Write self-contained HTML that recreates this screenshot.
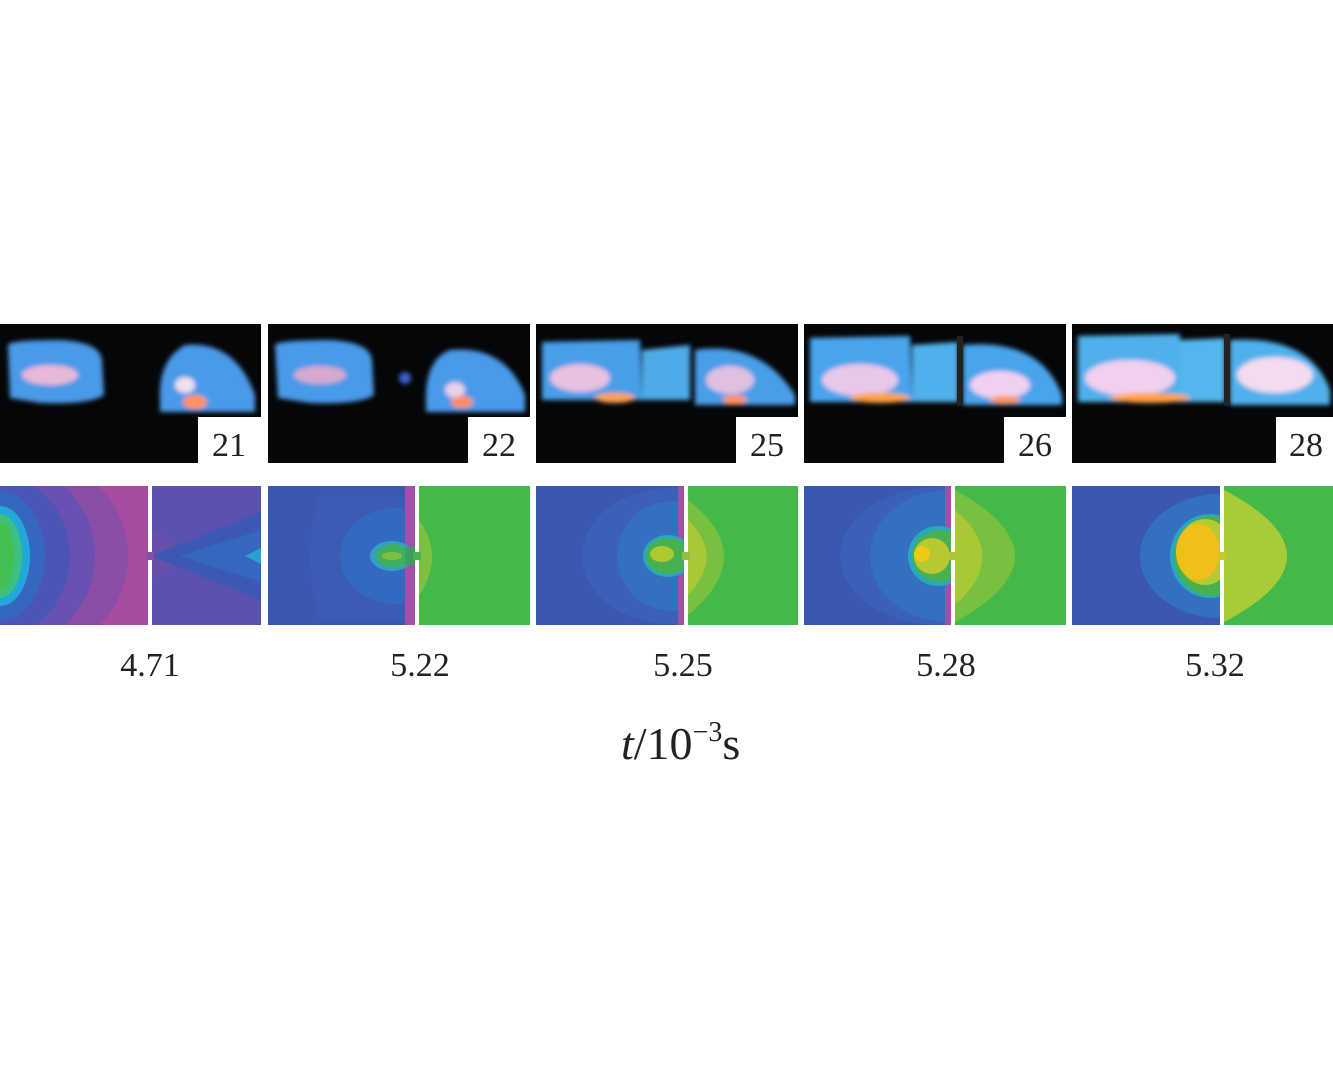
<!DOCTYPE html>
<html><head><meta charset="utf-8"><style>
html,body{margin:0;padding:0;background:#fff;}
svg{display:block}
text{font-family:"Liberation Serif",serif;fill:#222}
</style></head><body>
<svg width="1333" height="1085" viewBox="0 0 1333 1085" xmlns="http://www.w3.org/2000/svg">
<defs>
<filter id="b" x="-20%" y="-20%" width="140%" height="140%"><feGaussianBlur stdDeviation="2.5"/></filter>
<clipPath id="c1"><rect x="0" y="486" width="148" height="139"/></clipPath>
<clipPath id="c4"><rect x="804" y="486" width="147" height="139"/></clipPath>
<clipPath id="c3"><rect x="536" y="486" width="148" height="139"/></clipPath>
</defs>
<g>
<rect x="0" y="324" width="261" height="139" fill="#050608"/>
<rect x="268" y="324" width="262" height="139" fill="#050608"/>
<rect x="536" y="324" width="262" height="139" fill="#050608"/>
<rect x="804" y="324" width="262" height="139" fill="#050608"/>
<rect x="1072" y="324" width="261" height="139" fill="#050608"/>
<g filter="url(#b)">
<path d="M8 345 Q10 340 60 340 Q100 342 102 360 L104 395 Q90 405 40 403 L10 398 Z" fill="#4a9ae8"/>
<ellipse cx="50" cy="375" rx="28" ry="10" fill="#e8b8d8"/>
<path d="M160 400 Q158 360 185 345 Q235 340 255 395 L255 412 L160 412 Z" fill="#4a9ae8"/>
<ellipse cx="185" cy="385" rx="10" ry="8" fill="#f0e0f0"/>
<ellipse cx="195" cy="402" rx="12" ry="7" fill="#ff9060"/>
</g>
<g filter="url(#b)">
<path d="M275 345 Q278 340 330 340 Q370 342 372 360 L374 395 Q360 405 310 403 L278 398 Z" fill="#4a9ae8"/>
<ellipse cx="320" cy="375" rx="26" ry="9" fill="#d8a8d0"/>
<ellipse cx="405" cy="378" rx="6" ry="6" fill="#3a60d0"/>
<path d="M426 405 Q424 360 450 350 Q505 345 525 395 L525 412 L426 412 Z" fill="#4a9ae8"/>
<ellipse cx="455" cy="390" rx="10" ry="8" fill="#e8d0e8"/>
<ellipse cx="462" cy="402" rx="11" ry="6" fill="#ff8c60"/>
</g>
<g filter="url(#b)">
<path d="M542 342 L640 340 L642 400 L542 400 Z" fill="#4a9ee8"/>
<path d="M642 350 L690 345 L690 400 L642 400 Z" fill="#50aae8"/>
<path d="M695 350 Q760 340 795 395 L795 405 L695 405 Z" fill="#4a9ee8"/>
<ellipse cx="580" cy="378" rx="30" ry="14" fill="#e8c0e0"/>
<ellipse cx="615" cy="398" rx="20" ry="5" fill="#ffa050"/>
<ellipse cx="730" cy="380" rx="24" ry="14" fill="#e0c0e0"/>
<ellipse cx="735" cy="400" rx="12" ry="5" fill="#ff9060"/>
</g>
<g filter="url(#b)">
<path d="M810 338 L910 336 L912 402 L810 402 Z" fill="#4aa4ec"/>
<path d="M912 345 L958 342 L958 402 L912 402 Z" fill="#50b0ec"/>
<path d="M963 345 Q1040 338 1062 395 L1062 405 L963 405 Z" fill="#4aa4ec"/>
<ellipse cx="860" cy="380" rx="38" ry="16" fill="#e8c8e8"/>
<ellipse cx="880" cy="398" rx="30" ry="5" fill="#ffa040"/>
<ellipse cx="1000" cy="385" rx="30" ry="14" fill="#f0d0f0"/>
<ellipse cx="1005" cy="400" rx="15" ry="4" fill="#ff9050"/>
</g>
<rect x="957" y="336" width="6" height="70" fill="#222"/>
<g filter="url(#b)">
<path d="M1078 336 L1180 334 L1180 402 L1078 402 Z" fill="#50b0ec"/>
<path d="M1180 340 L1225 338 L1225 402 L1180 402 Z" fill="#52b6ec"/>
<path d="M1230 340 Q1310 335 1330 390 L1330 405 L1230 405 Z" fill="#50b0ec"/>
<ellipse cx="1130" cy="378" rx="45" ry="18" fill="#f0d0ee"/>
<ellipse cx="1150" cy="398" rx="40" ry="5" fill="#ffa040"/>
<ellipse cx="1275" cy="375" rx="38" ry="18" fill="#f4dcf0"/>
</g>
<rect x="1224" y="334" width="6" height="72" fill="#222"/>
<rect x="198" y="417" width="63" height="46" fill="#fff"/>
<rect x="468" y="417" width="62" height="46" fill="#fff"/>
<rect x="736" y="417" width="62" height="46" fill="#fff"/>
<rect x="1004" y="417" width="62" height="46" fill="#fff"/>
<rect x="1276" y="417" width="57" height="46" fill="#fff"/>
<text x="229" y="456" font-size="34" text-anchor="middle">21</text>
<text x="499" y="456" font-size="34" text-anchor="middle">22</text>
<text x="767" y="456" font-size="34" text-anchor="middle">25</text>
<text x="1035" y="456" font-size="34" text-anchor="middle">26</text>
<text x="1306" y="456" font-size="34" text-anchor="middle">28</text>
</g>

<g clip-path="url(#c1)">
<rect x="0" y="486" width="148" height="139" fill="#a84ca0"/>
<ellipse cx="0" cy="556" rx="128" ry="110" fill="#8a4ea8"/>
<ellipse cx="0" cy="556" rx="95" ry="95" fill="#6a50b0"/>
<ellipse cx="0" cy="556" rx="70" ry="80" fill="#4a55b5"/>
<ellipse cx="0" cy="556" rx="45" ry="65" fill="#3566c0"/>
<ellipse cx="0" cy="556" rx="30" ry="50" fill="#22a8d8"/>
<ellipse cx="0" cy="556" rx="22" ry="42" fill="#3cc080"/>
<ellipse cx="0" cy="556" rx="14" ry="34" fill="#44c050"/>
</g>
<rect x="152" y="486" width="109" height="139" fill="#6650aa"/>
<path d="M152 486 L261 486 L261 625 L152 625 L152 580 Q200 556 152 530 Z" fill="#5a52ae"/>
<path d="M152 556 L261 512 L261 600 Z" fill="#3a58b4"/>
<path d="M180 556 L261 530 L261 582 Z" fill="#3566c0"/>
<path d="M245 556 L261 548 L261 564 Z" fill="#2aa0d0"/>
<rect x="268" y="486" width="147" height="139" fill="#3a58b0"/>
<path d="M320 495 Q300 556 320 620 L415 620 L415 495 Z" fill="#3a5cb4" />
<ellipse cx="395" cy="556" rx="55" ry="48" fill="#3568c0"/>
<rect x="405" y="486" width="10" height="139" fill="#a050a8"/>
<ellipse cx="392" cy="556" rx="22" ry="15" fill="#30a0c8"/>
<ellipse cx="394" cy="556" rx="18" ry="12" fill="#40b060"/>
<ellipse cx="392" cy="556" rx="10" ry="4" fill="#80c040"/>
<rect x="405" y="547" width="10" height="18" fill="#3aa060"/>
<rect x="419" y="486" width="111" height="139" fill="#44b848"/>
<path d="M419 520 Q445 556 419 596 Z" fill="#7ec040"/>
<g clip-path="url(#c3)">
<rect x="536" y="486" width="148" height="139" fill="#3a58b0"/>
<ellipse cx="672" cy="556" rx="90" ry="68" fill="#3a60b8"/>
<ellipse cx="672" cy="556" rx="55" ry="55" fill="#3570c0"/>
<rect x="678" y="486" width="6" height="139" fill="#a050a8"/>
<ellipse cx="668" cy="556" rx="25" ry="21" fill="#28a8c0"/>
<ellipse cx="668" cy="556" rx="22" ry="18" fill="#48b050"/>
<ellipse cx="662" cy="554" rx="12" ry="8" fill="#b0c830"/>
</g>
<rect x="688" y="486" width="110" height="139" fill="#44b848"/>
<path d="M688 500 Q760 556 688 615 Z" fill="#78c040"/>
<path d="M688 520 Q725 556 688 595 Z" fill="#a8c838"/>
<g clip-path="url(#c4)">
<rect x="804" y="486" width="147" height="139" fill="#3a58b0"/>
<ellipse cx="945" cy="556" rx="105" ry="70" fill="#3a60b8"/>
<ellipse cx="945" cy="556" rx="75" ry="65" fill="#3570c0"/>
<rect x="945" y="486" width="6" height="139" fill="#a050a8"/>
<ellipse cx="938" cy="556" rx="30" ry="30" fill="#28a8c0"/>
<ellipse cx="940" cy="556" rx="28" ry="26" fill="#48b050"/>
<ellipse cx="932" cy="556" rx="18" ry="18" fill="#b8c830"/>
<ellipse cx="922" cy="554" rx="8" ry="8" fill="#f0c818"/>
</g>
<rect x="955" y="486" width="111" height="139" fill="#44b848"/>
<path d="M955 490 Q1075 556 955 622 Z" fill="#78c040"/>
<path d="M955 510 Q1010 556 955 605 Z" fill="#a8c838"/>
<rect x="1072" y="486" width="148" height="139" fill="#3a58b0"/>
<ellipse cx="1220" cy="556" rx="80" ry="62" fill="#3570c0"/>
<ellipse cx="1210" cy="556" rx="40" ry="42" fill="#28a8c0"/>
<ellipse cx="1212" cy="556" rx="38" ry="40" fill="#48b050"/>
<ellipse cx="1205" cy="552" rx="28" ry="33" fill="#b8c830"/>
<ellipse cx="1198" cy="552" rx="22" ry="28" fill="#f0c018"/>
<rect x="1220" y="486" width="4" height="139" fill="#fff"/>
<rect x="1224" y="486" width="109" height="139" fill="#44b848"/>
<path d="M1224 490 Q1350 556 1224 622 Z" fill="#a8cc38"/>
<rect x="148" y="486" width="4" height="139" fill="#fff"/>
<rect x="415" y="486" width="4" height="139" fill="#fff"/>
<rect x="684" y="486" width="4" height="139" fill="#fff"/>
<rect x="951" y="486" width="4" height="139" fill="#fff"/>
<rect x="146" y="552" width="8" height="8" fill="#8a4ea8"/>
<rect x="413" y="552" width="8" height="8" fill="#48b050"/>
<rect x="682" y="552" width="8" height="8" fill="#90c040"/>
<rect x="949" y="552" width="8" height="8" fill="#a8c838"/>
<rect x="1218" y="552" width="8" height="8" fill="#c8c828"/>

<text x="150" y="676" font-size="34" text-anchor="middle">4.71</text>
<text x="420" y="676" font-size="34" text-anchor="middle">5.22</text>
<text x="683" y="676" font-size="34" text-anchor="middle">5.25</text>
<text x="946" y="676" font-size="34" text-anchor="middle">5.28</text>
<text x="1215" y="676" font-size="34" text-anchor="middle">5.32</text>
<text x="621" y="759" font-size="46"><tspan font-style="italic">t</tspan>/10<tspan font-size="28" dy="-18">−3</tspan><tspan dy="18">s</tspan></text>
</svg>
</body></html>
